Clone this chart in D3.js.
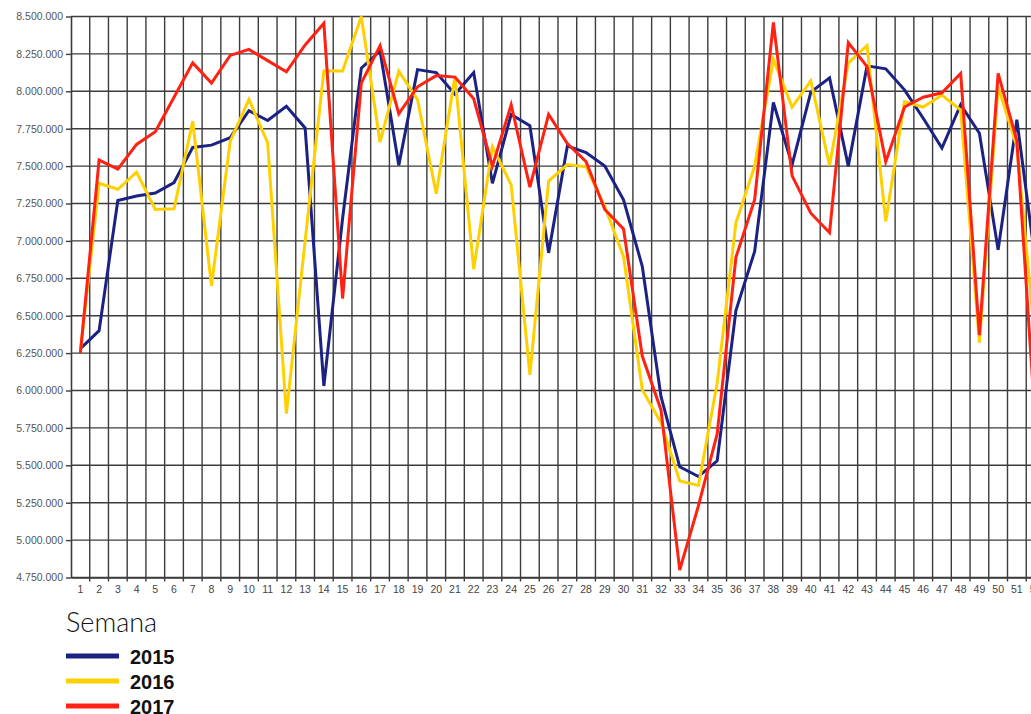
<!DOCTYPE html>
<html lang="es">
  <head>
    <meta charset="UTF-8" />
    <title>Semana 2015-2017</title>
    <script src="https://d3js.org/d3.v7.min.js"></script>
    <style>
      body {
        margin: 0;
        background: #fff;
        font-family: 'Liberation Sans', Arial, sans-serif;
      }
      svg {
        display: block;
      }
    </style>
  </head>
  <body>
    <svg width="1031" height="714"></svg>

    <script>
      // weeks 1..52
      const weeks = d3.range(1, 53);

      const yTicks = d3.range(4750000, 8500001, 250000);

      const years = ['2015', '2016', '2017'];
      const colors = ['#1c2283', '#ffd000', '#ff2213'];

      const v2015 = [
        6.28, 6.40, 7.27, 7.30, 7.32, 7.39, 7.625, 7.64, 7.69, 7.87, 7.805, 7.90,
        7.755, 6.03, 7.15, 8.155, 8.27, 7.505, 8.145, 8.125, 7.98, 8.125, 7.385,
        7.845, 7.77, 6.92, 7.635, 7.59, 7.50, 7.275, 6.83, 5.96, 5.49, 5.425,
        5.53, 6.535, 6.93, 7.925, 7.51, 7.995, 8.09, 7.50, 8.17, 8.15, 8.01,
        7.82, 7.62, 7.91, 7.72, 6.94, 7.81, 6.85,
      ];
      const v2016 = [
        6.26, 7.385, 7.345, 7.46, 7.21, 7.215, 7.80, 6.70, 7.665, 7.945, 7.655,
        5.845, 7.0, 8.135, 8.135, 8.50, 7.66, 8.135, 7.945, 7.315, 8.10, 6.81,
        7.63, 7.375, 6.105, 7.40, 7.51, 7.495, 7.23, 6.895, 6.005, 5.785, 5.395,
        5.365, 6.05, 7.12, 7.50, 8.215, 7.895, 8.07, 7.505, 8.19, 8.305, 7.13,
        7.93, 7.895, 7.975, 7.875, 6.32, 8.03, 7.63, 6.30,
      ];
      const v2017 = [
        6.25, 7.54, 7.48, 7.645, 7.73, 7.96, 8.19, 8.055, 8.24, 8.28, 8.205,
        8.13, 8.31, 8.455, 6.615, 8.055, 8.305, 7.85, 8.03, 8.105, 8.095, 7.95,
        7.50, 7.91, 7.36, 7.845, 7.65, 7.53, 7.21, 7.08, 6.23, 5.87, 4.80, 5.23,
        5.71, 6.89, 7.275, 8.46, 7.435, 7.185, 7.055, 8.325, 8.165, 7.53, 7.895,
        7.96, 7.99, 8.12, 6.37, 8.12, 7.67, 5.75,
      ];

      const series = [v2015, v2016, v2017].map((vals, i) => ({
        year: years[i],
        color: colors[i],
        values: vals.map((v, j) => ({ week: weeks[j], value: v * 1e6 })),
      }));

      const svg = d3.select('svg');

      const plotLeft = 71,
        step = 18.73,
        plotTop = 16.5,
        plotBottom = 577.5;

      const x = d3
        .scaleBand()
        .domain(weeks)
        .range([plotLeft, plotLeft + step * weeks.length])
        .padding(0);

      const y = d3
        .scaleLinear()
        .domain([4750000, 8500000])
        .range([plotBottom, plotTop]);

      const es = d3.formatLocale({
        decimal: ',',
        thousands: '.',
        grouping: [3],
        currency: ['', ' €'],
      });
      const fmt = es.format(',d');

      // grid
      const grid = svg.append('g').attr('stroke', '#3c3c3c').attr('stroke-width', 1.4);
      grid
        .selectAll('.h')
        .data(yTicks)
        .join('line')
        .attr('x1', plotLeft)
        .attr('x2', x.range()[1])
        .attr('y1', (d) => y(d))
        .attr('y2', (d) => y(d));
      grid
        .selectAll('.v')
        .data(weeks)
        .join('line')
        .attr('x1', (d) => x(d) + x.bandwidth())
        .attr('x2', (d) => x(d) + x.bandwidth())
        .attr('y1', plotTop)
        .attr('y2', plotBottom + 4);

      // Y axis
      const yAxis = svg
        .append('g')
        .attr('transform', `translate(${plotLeft},0)`)
        .call(
          d3.axisLeft(y).tickValues(yTicks).tickFormat(fmt).tickSize(5).tickSizeOuter(0),
        );
      yAxis.selectAll('line').attr('stroke', '#3c3c3c').attr('stroke-width', 1.4);
      yAxis.select('.domain').attr('stroke', '#3c3c3c').attr('stroke-width', 1.6);
      yAxis
        .selectAll('text')
        .attr('font-size', '10.5px')
        .attr('font-family', "'Liberation Sans', Arial, sans-serif")
        .attr('fill', '#555')
        .attr('x', -8);

      // X axis
      const xAxis = svg
        .append('g')
        .attr('transform', `translate(0,${plotBottom})`)
        .call(d3.axisBottom(x).tickSize(0).tickPadding(8).tickSizeOuter(0));
      xAxis.select('.domain').attr('stroke', '#3c3c3c').attr('stroke-width', 1.6);
      xAxis
        .selectAll('text')
        .attr('font-size', '10.5px')
        .attr('font-family', "'Liberation Sans', Arial, sans-serif")
        .attr('fill', '#444');

      // lines
      const line = d3
        .line()
        .x((d) => x(d.week) + x.bandwidth() / 2)
        .y((d) => y(d.value));

      svg
        .append('g')
        .selectAll('path')
        .data(series)
        .join('path')
        .attr('fill', 'none')
        .attr('stroke', (d) => d.color)
        .attr('stroke-width', 3)
        .attr('stroke-linejoin', 'miter')
        .attr('d', (d) => line(d.values));

      // legend
      svg
        .append('text')
        .attr('x', 66)
        .attr('y', 632)
        .attr('font-family', "Lato, 'Open Sans', sans-serif")
        .attr('font-weight', 300)
        .attr('font-size', '27px')
        .attr('fill', '#111')
        .text('Semana');

      const legend = svg
        .append('g')
        .selectAll('g')
        .data(series)
        .join('g')
        .attr('transform', (d, i) => `translate(66,${656 + i * 25})`);
      legend
        .append('line')
        .attr('x1', 0)
        .attr('x2', 53)
        .attr('stroke', (d) => d.color)
        .attr('stroke-width', 5);
      legend
        .append('text')
        .attr('x', 64)
        .attr('y', 7.5)
        .attr('font-family', "'Liberation Sans', Arial, sans-serif")
        .attr('font-weight', 'bold')
        .attr('font-size', '20px')
        .attr('fill', '#111')
        .text((d) => d.year);
    </script>
  </body>
</html>
